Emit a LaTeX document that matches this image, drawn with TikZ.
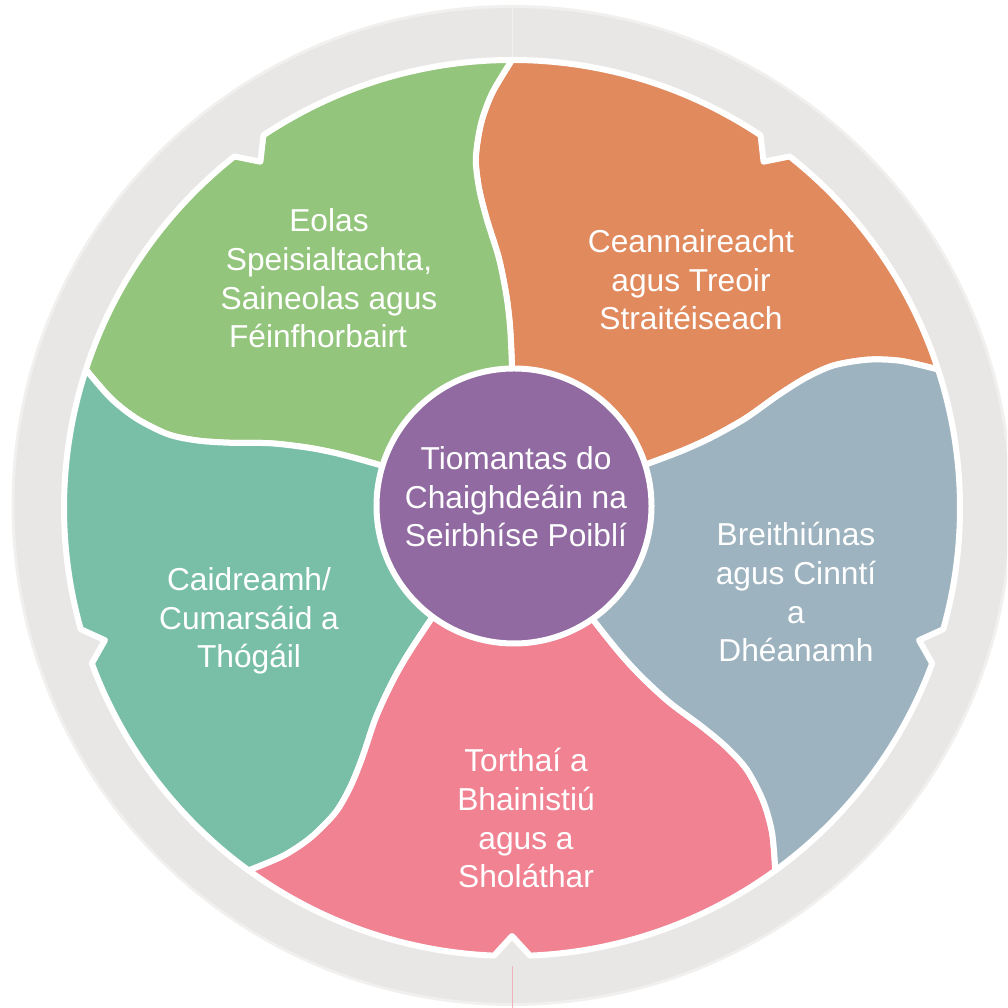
\documentclass[tikz,border=0pt]{standalone}
\usepackage{fontspec}
\setmainfont{Liberation Sans}
\definecolor{ringgray}{HTML}{E8E7E5}
\definecolor{ringedge}{HTML}{F1F0EE}
\definecolor{cgreen}{HTML}{93C57C}
\definecolor{corange}{HTML}{E08A5E}
\definecolor{cblue}{HTML}{9DB3BF}
\definecolor{cteal}{HTML}{79BFA8}
\definecolor{cpink}{HTML}{F08292}
\definecolor{cpurple}{HTML}{906AA1}
\definecolor{seampink}{HTML}{EDB3BF}
\newcommand\wheelseg[4]{%
  \path[seg, fill=#1] (0,0) -- plot[smooth] coordinates {(B#2-1) (B#2-2) (B#2-3) (B#2-4) (B#2-5) (B#2-6) (B#2-7) (B#2-8) (B#2-9) (B#2-10) (B#2-11)}
    arc[start angle=#3, end angle={#3+33.7}, radius=448]
    -- ({#3+36}:428) -- ({#3+38.3}:448)
    arc[start angle={#3+38.3}, end angle={#3+72}, radius=448]
    -- plot[smooth] coordinates {(B#4-11) (B#4-10) (B#4-9) (B#4-8) (B#4-7) (B#4-6) (B#4-5) (B#4-4) (B#4-3) (B#4-2) (B#4-1)} -- cycle;%
}
\begin{document}
\begin{tikzpicture}[x=1pt,y=1pt,
  seg/.style={draw=white, line width=6pt, line join=round},
  lbl/.style={text=white, align=center, anchor=base, inner sep=0pt,
    font=\fontsize{31.7}{38.8}\selectfont},
  hubstyle/.style={fill=cpurple, draw=white, line width=6pt}]
\useasboundingbox (0,0) rectangle (1007,1008);
\fill[white] (0,0) rectangle (1007,1008);
\begin{scope}
\clip (0,0) rectangle (1007,1008);
\fill[ringedge] (512,502.5) circle[radius=500.5];
\fill[ringgray] (512,502.5) circle[radius=497.5];
\end{scope}
\coordinate (seamtopA) at (512,1003);
\coordinate (seamtopB) at (512,951);
\draw[ringedge, line width=0.6pt] (seamtopA) -- (seamtopB);
\coordinate (seambotA) at (512,42);
\coordinate (seambotB) at (512,0);
\draw[seampink, line width=1pt] (seambotA) -- (seambotB);
\begin{scope}[shift={(512,500)}]
\foreach \k/\b in {0/90,1/18,2/-54,3/-126,4/-198}{
  \foreach \i/\r/\o in {1/120/0, 2/140/0, 3/180/0.6, 4/212/1.5, 5/250/3.0, 6/290/5.0, 7/322/5.9, 8/352/5.9, 9/386/4.6, 10/416/2.7, 11/448/0}{
    \coordinate (B\k-\i) at ({\b+\o}:\r);
  }
}
\wheelseg{corange}{1}{18}{0}
\wheelseg{cgreen}{0}{90}{4}
\wheelseg{cteal}{4}{162}{3}
\wheelseg{cpink}{3}{234}{2}
\wheelseg{cblue}{2}{-54}{1}
\end{scope}
\path[hubstyle] (514,502) circle[radius=137.5];
\coordinate (hub) at (514,502);
\node[lbl] (tgreen) at (329,660) {Eolas\\Speisialtachta,\\Saineolas agus\\Féinfhorbairt\hspace*{22pt}};
\node[lbl] (torange) at (691,678) {Ceannaireacht\\agus Treoir\\Straitéiseach};
\node[lbl] (thub) at (516,461) {Tiomantas do\\Chaighdeáin na\\Seirbhíse Poiblí};
\node[lbl] (tblue) at (796,346) {Breithiúnas\\agus Cinntí\\a\\Dhéanamh};
\node[lbl] (tteal) at (249,340) {Caidreamh/\\Cumarsáid a\\Thógáil};
\node[lbl] (tpink) at (526,120) {Torthaí a\\Bhainistiú\\agus a\\Sholáthar};
\end{tikzpicture}
\end{document}
